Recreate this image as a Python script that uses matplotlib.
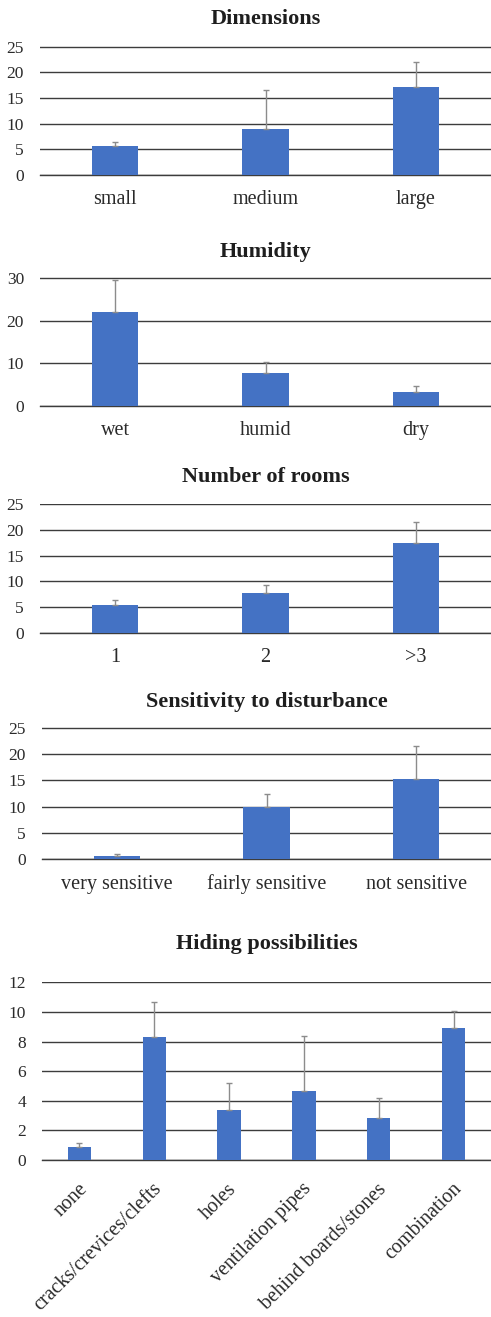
import numpy as np
import matplotlib
matplotlib.use("Agg")
import matplotlib.pyplot as plt
from matplotlib.transforms import ScaledTranslation

plt.rcParams["font.family"] = ["Liberation Serif", "DejaVu Serif"]

# Mean values with upper error (one-sided) for each habitat variable
dim_cats = ["small", "medium", "large"]
dim_vals = [5.6, 8.9, 17.2]
dim_err = [0.85, 7.7, 4.8]

hum_cats = ["wet", "humid", "dry"]
hum_vals = [22.0, 7.8, 3.2]
hum_err = [7.4, 2.6, 1.4]

room_cats = ["1", "2", ">3"]
room_vals = [5.4, 7.8, 17.4]
room_err = [0.9, 1.4, 4.2]

sens_cats = ["very sensitive", "fairly sensitive", "not sensitive"]
sens_vals = [0.7, 10.0, 15.2]
sens_err = [0.25, 2.4, 6.4]

hide_cats = ["none", "cracks/crevices/clefts", "holes", "ventilation pipes",
             "behind boards/stones", "combination"]
hide_vals = [0.87, 8.34, 3.41, 4.69, 2.83, 8.9]
hide_err = [0.3, 2.34, 1.82, 3.72, 1.39, 1.2]

W, H = 491, 1317
BAR = "#4472C4"
GRID = "#3c3c3c"
ERR = "#8c8c8c"
TXT = "#2a2a2a"

fig = plt.figure(figsize=(W / 100, H / 100), dpi=100)


def panel(title, cats, vals, err, ymax, step, x0, top, bottom, title_base,
          rotate=False):
    ax = fig.add_axes([x0 / W, 1 - bottom / H, (W - x0) / W, (bottom - top) / H])
    n = len(cats)
    x = np.arange(n)
    ax.bar(x, vals, width=0.31, color=BAR, zorder=3,
           yerr=[np.zeros(n), err],
           error_kw=dict(ecolor=ERR, elinewidth=1.0, capsize=2.5, capthick=1.0,
                         zorder=4))
    ax.set_xlim(-0.5, n - 0.5)
    ax.set_ylim(0, ymax * 1.004)
    ticks = np.arange(0, ymax + 0.01, step)
    ax.set_yticks(ticks)
    ax.set_yticklabels([f"{v:g}" for v in ticks], fontsize=12.5, color=TXT)
    ax.yaxis.grid(True, color=GRID, linewidth=1.0, zorder=0)
    ax.set_axisbelow(True)
    for s in ("top", "right", "left"):
        ax.spines[s].set_visible(False)
    ax.spines["bottom"].set_color(GRID)
    ax.spines["bottom"].set_linewidth(1.0)
    ax.tick_params(axis="y", length=0, pad=11.5)
    ax.set_xticks(x)
    if rotate:
        ax.set_xticklabels(cats, fontsize=14.5, color=TXT, rotation=45,
                           ha="right", va="center", rotation_mode="anchor")
        ax.tick_params(axis="x", length=0, pad=19)
        shift = ScaledTranslation(5 / 100, 0, fig.dpi_scale_trans)
        for lbl in ax.get_xticklabels():
            lbl.set_transform(lbl.get_transform() + shift)
    else:
        ax.set_xticklabels(cats, fontsize=14.5, color=TXT)
        ax.tick_params(axis="x", length=0, pad=11)
    fig.text((x0 + W) / 2 / W, 1 - title_base / H, title, ha="center",
             va="baseline", fontsize=16, fontweight="bold", color="#1e1e1e")
    return ax


panel("Dimensions", dim_cats, dim_vals, dim_err, 25, 5, 40, 46, 175, 24)
panel("Humidity", hum_cats, hum_vals, hum_err, 30, 10, 40, 277.3, 406, 256.7)
panel("Number of rooms", room_cats, room_vals, room_err, 25, 5, 40, 503.7, 632.7, 482)
panel("Sensitivity to disturbance", sens_cats, sens_vals, sens_err, 25, 5, 42,
      727.3, 859.3, 707)
panel("Hiding possibilities", hide_cats, hide_vals, hide_err, 12, 2, 42,
      981.7, 1160, 949, rotate=True)

fig.savefig("out.png", dpi=100)
